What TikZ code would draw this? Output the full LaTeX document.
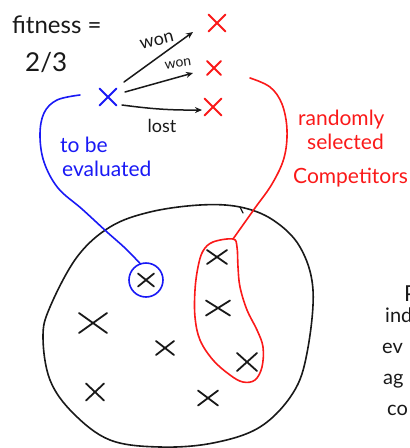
\documentclass[tikz,border=0pt]{standalone}
\usepackage{fontspec}
\setmainfont{Lato}
\usetikzlibrary{arrows.meta,shapes.misc}
\definecolor{pen}{RGB}{25,25,25}
\definecolor{hblue}{RGB}{25,25,245}
\definecolor{hred}{RGB}{250,25,25}
\begin{document}
\begin{tikzpicture}[x=1pt,y=-1pt,line cap=round,line join=round,
  xmk/.style n args={3}{cross out,draw=#1,line width=1.8pt,minimum width=#2,minimum height=#3,inner sep=0pt,outer sep=0pt},
  txt/.style={inner sep=0pt,font=\fontsize{#1}{#1}\selectfont},
  stroke/.style={line width=1.6pt},
  arr/.style={draw=pen,line width=1.5pt,-{Stealth[length=7pt,width=6pt]}}]
\useasboundingbox (0,0) rectangle (410,448);
% title
\node[txt=24,anchor=base west,text=pen] (fit) at (12,33) {fitness =};
\node[txt=26,anchor=base west,text=pen] (frac) at (25,71) {2/3};
% top crosses
\node[xmk={hblue}{17}{17}] (bx) at (108,97) {};
\node[xmk={hred}{17}{17}] (r1) at (217,23) {};
\node[xmk={hred}{14}{14}] (r2) at (214,68) {};
\node[xmk={hred}{17}{17}] (r3) at (213,107) {};
% arrows
\draw[arr] ([shift={(16,-15)}]bx.center) -- ([shift={(-24,9)}]r1.center);
\draw[arr] ([shift={(17,-5)}]bx.center) -- ([shift={(-21,5)}]r2.center);
\draw[arr] ([shift={(14,8)}]bx.center) to[bend right=4] ([shift={(-11,3)}]r3.center);
\node[txt=18,rotate=14,text=pen] (w1) at (157,41) {won};
\node[txt=14,rotate=8,text=pen] (w2) at (178,64) {won};
\node[txt=18,text=pen] (lost) at (162,126) {lost};
% labels
\node[txt=21,anchor=base west,text=hblue] (tb1) at (60,152) {to be};
\node[txt=21,anchor=base west,text=hblue] (tb2) at (62,176) {evaluated};
\node[txt=21,anchor=base west,text=hred] (rc1) at (298,125) {randomly};
\node[txt=21,anchor=base west,text=hred] (rc2) at (307,149) {selected};
\node[txt=21,anchor=base west,text=hred] (rc3) at (293,183) {Competitors};
% population
\draw[pen,stroke] plot[smooth cycle,tension=0.6] coordinates {(200,205) (240,207) (273,220) (300,247) (313,290) (307,353) (293,393) (260,427) (213,443) (160,447) (110,440) (73,413) (50,380) (43,337) (50,307) (77,257) (110,227) (150,212)};
\draw[pen,line width=1.3pt] (240,207) -- (243,213);
\node[xmk={pen}{16}{13}] (p1) at (146,280) {};
\node[xmk={pen}{28}{20}] (p2) at (93,323) {};
\node[xmk={pen}{18}{14}] (p3) at (165,348) {};
\node[xmk={pen}{18}{17}] (p4) at (95,392) {};
\node[xmk={pen}{20}{15}] (p5) at (208,398) {};
\node[xmk={pen}{20}{14}] (c1) at (217,257) {};
\node[xmk={pen}{24}{15}] (c2) at (218,308) {};
\node[xmk={pen}{20}{18}] (c3) at (247,362) {};
% blue selection
\node[circle,draw=hblue,stroke,minimum size=34pt,inner sep=0pt] (selc) at (146,280) {};
\coordinate (bstart) at (80,95);
\draw[hblue,stroke] plot[smooth,tension=0.6] coordinates {(bstart) (57,100) (44,113) (40,135) (44,162) (58,188) (82,209) (107,232) (125,248) (selc.110)};
% red selection
\coordinate (rstart) at (250,78);
\coordinate (rtop) at (233,239);
\draw[hred,stroke] plot[smooth,tension=0.6] coordinates {(rstart) (270,87) (282,104) (287,130) (284,158) (272,184) (255,208) (rtop)};
\draw[hred,stroke] plot[smooth cycle,tension=0.6] coordinates {(rtop) (213,242) (203,251) (198,267) (195,290) (195,317) (200,340) (213,360) (230,375) (243,382) (255,380) (262,367) (263,347) (257,330) (247,310) (240,287) (238,267) (237,247)};
% clipped right-hand text
\node[txt=22,anchor=base west,text=pen] (f0) at (404,301) {P};
\node[txt=20,anchor=base west,text=pen] (f1) at (385,322) {ind};
\node[txt=20,anchor=base west,text=pen] (f2) at (382,353) {ev};
\node[txt=20,anchor=base west,text=pen] (f3) at (383,384) {ag};
\node[txt=20,anchor=base west,text=pen] (f4) at (387,415) {co};
\end{tikzpicture}
\end{document}
